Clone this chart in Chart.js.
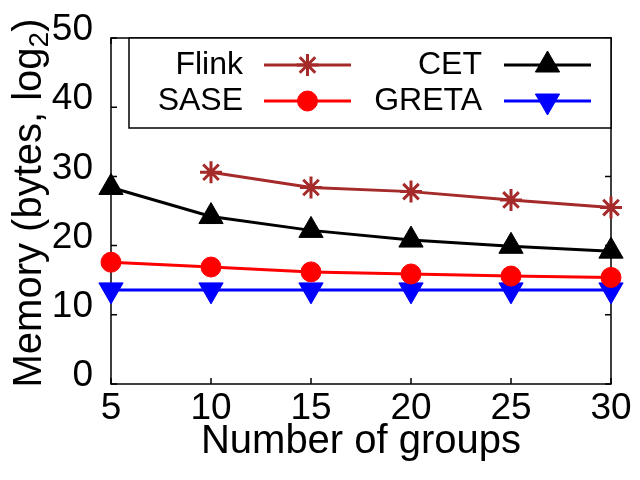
<!DOCTYPE html>
<html>
<head>
<meta charset="utf-8">
<script src="https://cdn.jsdelivr.net/npm/chart.js@4.4.1/dist/chart.umd.min.js"></script>
<style>
  html, body { margin: 0; padding: 0; background: #fff; }
  canvas { display: block; }
</style>
</head>
<body>
<canvas id="chart-memory" width="640" height="480"></canvas>
<script>
// values (log2 of bytes)
const groups = [5, 10, 15, 20, 25, 30];
const flinkMem = [null, 30.6, 28.4, 27.8, 26.6, 25.5];
const cetMem = [28.4, 24.2, 22.2, 20.8, 19.9, 19.2];
const saseMem = [17.6, 16.9, 16.2, 15.9, 15.6, 15.4];
const gretaMem = [13.6, 13.6, 13.6, 13.6, 13.6, 13.6];
const yTicks = [0, 10, 20, 30, 40, 50];

const FONT = "'Liberation Sans', Arial, sans-serif";

const series = [
    { label: 'Flink', values: flinkMem, color: '#a52a2a', style: 'star', radius: 11, rotation: 0, fill: false },
    { label: 'SASE', values: saseMem, color: '#ff0000', style: 'circle', radius: 10, rotation: 0, fill: true },
    { label: 'CET', values: cetMem, color: '#000000', style: 'triangle', radius: 14, rotation: 0, fill: true },
    { label: 'GRETA', values: gretaMem, color: '#0000ff', style: 'triangle', radius: 14, rotation: 180, fill: true }
];

function toPoints(values) {
    return groups.map((g, i) => ({ x: g, y: values[i] }));
}

// frame with inward ticks on all four sides, gnuplot style
const frameTicks = {
    id: 'frameTicks',
    beforeDatasetsDraw(chart) {
        const { ctx, chartArea: a, scales } = chart;
        ctx.save();
        ctx.strokeStyle = '#000';
        ctx.lineWidth = 1.5;
        ctx.strokeRect(a.left, a.top, a.right - a.left, a.bottom - a.top);
        ctx.beginPath();
        groups.forEach(g => {
            const x = scales.x.getPixelForValue(g);
            ctx.moveTo(x, a.bottom); ctx.lineTo(x, a.bottom - 6);
            ctx.moveTo(x, a.top); ctx.lineTo(x, a.top + 6);
        });
        yTicks.forEach(v => {
            const y = scales.y.getPixelForValue(v);
            ctx.moveTo(a.left, y); ctx.lineTo(a.left + 6, y);
            ctx.moveTo(a.right, y); ctx.lineTo(a.right - 6, y);
        });
        ctx.stroke();
        ctx.restore();
    }
};

// boxed two-column key in the top of the plot
const keyBox = {
    id: 'keyBox',
    afterDatasetsDraw(chart) {
        const { ctx, chartArea: a } = chart;
        const boxLeft = 129, boxBottom = 128;
        ctx.save();
        ctx.fillStyle = '#fff';
        ctx.fillRect(boxLeft, a.top, a.right - boxLeft, boxBottom - a.top);
        ctx.strokeStyle = '#000';
        ctx.lineWidth = 1.5;
        ctx.strokeRect(boxLeft, a.top, a.right - boxLeft, boxBottom - a.top);

        const cols = [{ textRight: 243, lineFrom: 264, lineTo: 351 },
                      { textRight: 482, lineFrom: 504, lineTo: 591 }];
        const rows = [65, 101];
        const slots = [[0, 0], [1, 0], [0, 1], [1, 1]]; // Flink, SASE, CET, GRETA
        ctx.font = '32px ' + FONT;
        ctx.textAlign = 'right';
        ctx.textBaseline = 'middle';
        series.forEach((s, i) => {
            const c = cols[slots[i][1]];
            const y = rows[slots[i][0]];
            ctx.fillStyle = '#000';
            ctx.fillText(s.label, c.textRight, y);
            ctx.strokeStyle = s.color;
            ctx.lineWidth = 3;
            ctx.beginPath();
            ctx.moveTo(c.lineFrom, y);
            ctx.lineTo(c.lineTo, y);
            ctx.stroke();
            ctx.fillStyle = s.color;
            ctx.lineWidth = s.fill ? 1 : 3;
            Chart.helpers.drawPoint(ctx, {
                pointStyle: s.style, radius: s.radius, rotation: s.rotation,
                borderWidth: ctx.lineWidth
            }, (c.lineFrom + c.lineTo) / 2, y);
        });
        ctx.restore();
    }
};

// rotated y title with a subscript 2
const yTitle = {
    id: 'yTitle',
    afterDraw(chart) {
        const { ctx, chartArea: a } = chart;
        const main = 'Memory (bytes, log';
        ctx.save();
        ctx.translate(30, (a.top + a.bottom) / 2 - 8);
        ctx.rotate(-Math.PI / 2);
        ctx.fillStyle = '#000';
        ctx.textBaseline = 'middle';
        ctx.textAlign = 'left';
        const big = '40px ' + FONT, small = '28px ' + FONT;
        ctx.font = big;
        const w1 = ctx.measureText(main).width;
        const w3 = ctx.measureText(')').width;
        ctx.font = small;
        const w2 = ctx.measureText('2').width;
        const start = -(w1 + w2 + w3) / 2;
        ctx.font = big;
        ctx.fillText(main, start, 0);
        ctx.font = small;
        ctx.fillText('2', start + w1, 10);
        ctx.font = big;
        ctx.fillText(')', start + w1 + w2, 0);
        ctx.restore();
    }
};

new Chart(document.getElementById('chart-memory'), {
    type: 'line',
    data: {
        datasets: series.map(s => ({
            label: s.label,
            data: toPoints(s.values),
            borderColor: s.color,
            backgroundColor: s.color,
            borderWidth: 3,
            pointStyle: s.style,
            pointRadius: s.radius,
            pointRotation: s.rotation,
            pointBorderWidth: s.fill ? 1 : 3,
            pointBackgroundColor: s.color,
            pointBorderColor: s.color,
            tension: 0,
            clip: false
        }))
    },
    options: {
        responsive: false,
        animation: false,
        devicePixelRatio: 1,
        layout: { padding: { top: 38, right: 29, left: 0, bottom: 0 } },
        plugins: { legend: { display: false }, tooltip: { enabled: false } },
        scales: {
            x: {
                type: 'linear',
                min: 5, max: 30,
                afterBuildTicks: scale => { scale.ticks = groups.map(v => ({ value: v })); },
                afterFit: scale => { scale.height = 96; },
                grid: { display: false, drawTicks: false },
                border: { display: false },
                ticks: { color: '#000', padding: 3, font: { family: FONT, size: 37 } },
                title: {
                    display: true, text: 'Number of groups', color: '#000',
                    font: { family: FONT, size: 40 }, padding: { top: 0, bottom: 14 }
                }
            },
            y: {
                min: 0, max: 50,
                afterBuildTicks: scale => { scale.ticks = yTicks.map(v => ({ value: v })); },
                afterFit: scale => { scale.width = 111; },
                grid: { display: false, drawTicks: false },
                border: { display: false },
                ticks: {
                    color: '#000', padding: 18,
                    font: { family: FONT, size: 37, lineHeight: '16px' },
                    callback: v => [String(v), '']
                }
            }
        }
    },
    plugins: [frameTicks, keyBox, yTitle]
});
</script>
</body>
</html>
